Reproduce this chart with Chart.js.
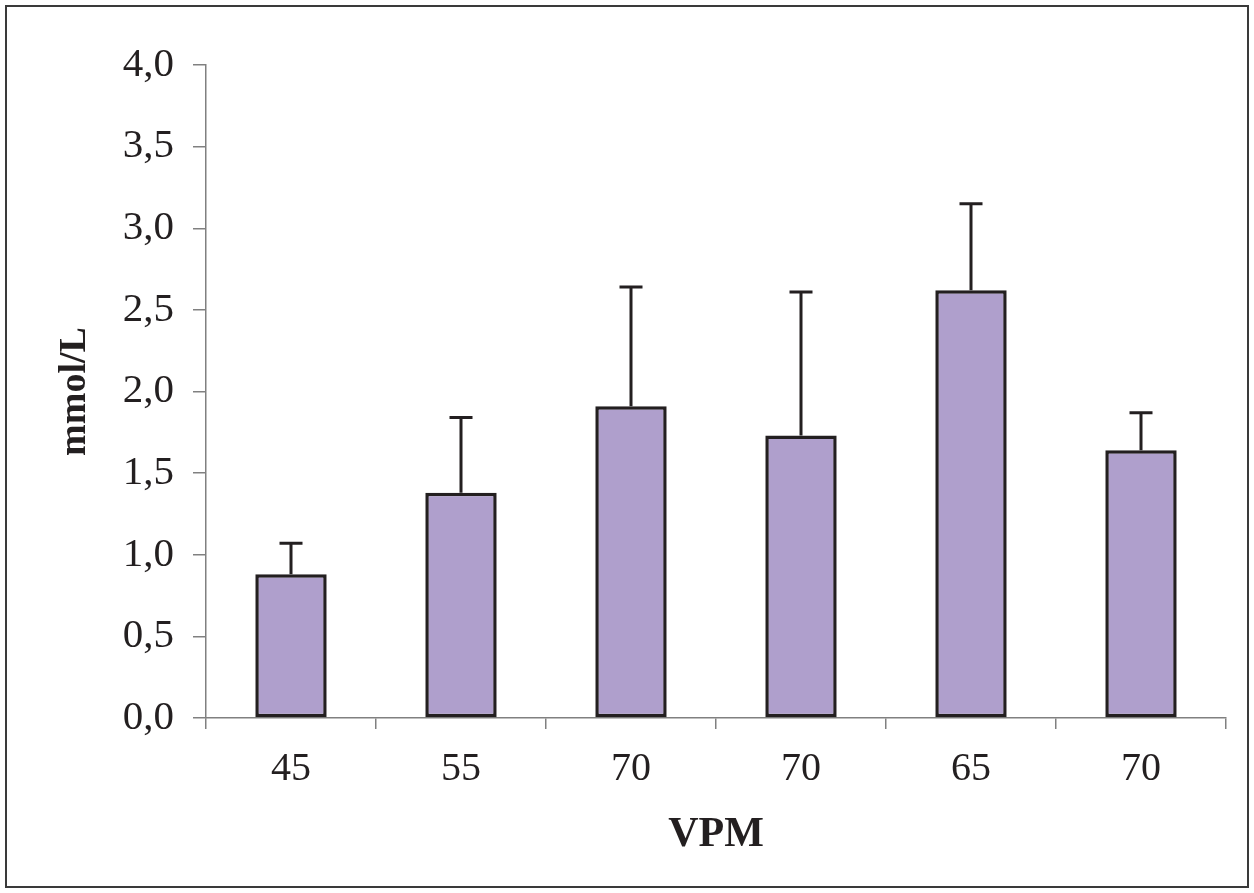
<!DOCTYPE html>
<html>
<head>
<meta charset="utf-8">
<script src="https://cdn.jsdelivr.net/npm/chart.js@4/dist/chart.umd.min.js"></script>
<style>
  html, body { margin: 0; padding: 0; background: #fff; }
  #wrap { position: relative; width: 1254px; height: 893px; }
</style>
</head>
<body>
<div id="wrap"><canvas id="c" width="1254" height="893"></canvas></div>
<script>
const categories = ["45", "55", "70", "70", "65", "70"];
const means = [0.88, 1.38, 1.91, 1.73, 2.62, 1.64];
const errors = [0.19, 0.46, 0.73, 0.88, 0.53, 0.23];
const yTicks = [0, 0.5, 1, 1.5, 2, 2.5, 3, 3.5, 4];

const errorBarPlugin = {
  id: 'errorBars',
  afterDatasetsDraw(chart) {
    const ctx = chart.ctx;
    const meta = chart.getDatasetMeta(0);
    const y = chart.scales.y;
    ctx.save();
    ctx.strokeStyle = '#231F20';
    ctx.lineWidth = 3;
    meta.data.forEach((bar, i) => {
      const x = bar.x;
      const yTop = y.getPixelForValue(means[i] + errors[i]);
      const yBase = y.getPixelForValue(means[i]);
      ctx.beginPath();
      ctx.moveTo(x, yBase);
      ctx.lineTo(x, yTop);
      ctx.moveTo(x - 11.5, yTop);
      ctx.lineTo(x + 11.5, yTop);
      ctx.stroke();
    });
    ctx.restore();
  }
};

const framePlugin = {
  id: 'frame',
  beforeDraw(chart) {
    const ctx = chart.ctx;
    ctx.save();
    ctx.fillStyle = '#ffffff';
    ctx.fillRect(0, 0, chart.width, chart.height);
    ctx.strokeStyle = '#3a3a3a';
    ctx.lineWidth = 2;
    ctx.strokeRect(6, 6, 1242, 881);
    ctx.restore();
  }
};

new Chart(document.getElementById('c'), {
  type: 'bar',
  data: {
    labels: categories,
    datasets: [{
      data: means,
      backgroundColor: '#AF9FCC',
      borderColor: '#231F20',
      borderWidth: 3.5,
      borderSkipped: false,
      categoryPercentage: 1.0,
      barPercentage: 0.42
    }]
  },
  options: {
    responsive: false,
    animation: false,
    events: [],
    layout: { padding: { left: 0, top: 65, right: 28, bottom: 0 } },
    plugins: { legend: { display: false }, tooltip: { enabled: false } },
    scales: {
      x: {
        afterFit(scale) { scale.height = 175; },
        grid: { display: true, drawOnChartArea: false, drawTicks: true, tickLength: 11, color: '#808080', lineWidth: 1.5, offset: true },
        border: { display: true, color: '#808080', width: 1.5 },
        ticks: { color: '#231F20', padding: 16, font: { family: '"Liberation Serif", "Times New Roman", serif', size: 40 } },
        title: { display: true, text: 'VPM', color: '#231F20', padding: { top: 0, bottom: 33 }, font: { family: '"Liberation Serif", "Times New Roman", serif', size: 42, weight: 'bold' } }
      },
      y: {
        min: 0, max: 4,
        afterFit(scale) { scale.width = 206; },
        afterBuildTicks(scale) { scale.ticks = yTicks.map(v => ({ value: v })); },
        grid: { display: true, drawOnChartArea: false, drawTicks: true, tickLength: 13, color: '#808080', lineWidth: 1.5 },
        border: { display: true, color: '#808080', width: 1.5 },
        ticks: {
          color: '#231F20', padding: 19,
          font: { family: '"Liberation Serif", "Times New Roman", serif', size: 41 },
          callback: v => v.toFixed(1).replace('.', ',')
        },
        title: { display: true, text: 'mmol/L', color: '#231F20', padding: { top: 52, bottom: 0 }, font: { family: '"Liberation Serif", "Times New Roman", serif', size: 38, weight: 'bold' } }
      }
    }
  },
  plugins: [framePlugin, errorBarPlugin]
});
</script>
</body>
</html>
